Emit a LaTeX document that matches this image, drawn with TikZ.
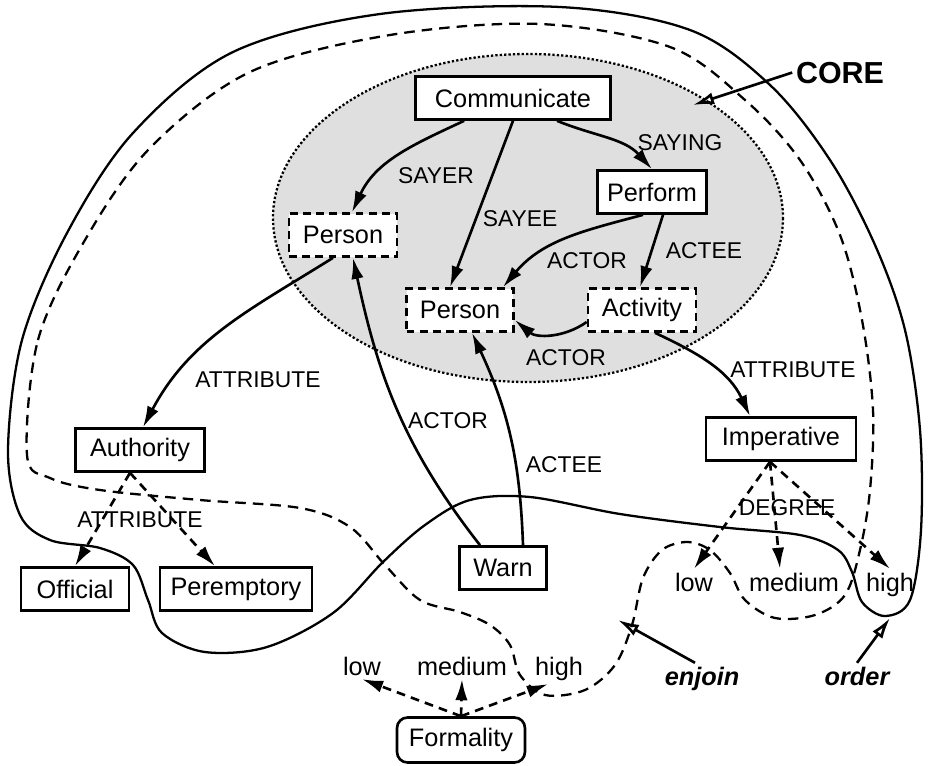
\documentclass[tikz,border=0pt]{standalone}
\usepackage{fontspec}
\setmainfont{Liberation Sans}
\usetikzlibrary{arrows.meta}

\tikzset{
  box/.style={draw, line width=1.5pt, fill=white, minimum height=0.86cm, inner sep=0pt,
    font=\fontsize{14.4}{16}\selectfont},
  dbox/.style={box, dash pattern=on 4.5pt off 3pt},
  lbl/.style={font=\fontsize{13}{15}\selectfont, inner sep=0pt, anchor=base},
  val/.style={font=\fontsize{14.4}{16}\selectfont, inner sep=2pt, anchor=base},
  rel/.style={line width=1.5pt, -{Latex[length=12pt,width=7pt]}},
  drel/.style={rel, dash pattern=on 5pt off 3.5pt},
  ptr/.style={line width=1.5pt, -{Latex[open,length=12pt,width=7pt]}},
}

\begin{document}
\begin{tikzpicture}[x=0.02cm, y=-0.02cm]
    \useasboundingbox (0,0) rectangle (929,765);

    % core
    \draw[fill=gray!25, line width=1.3pt, dash pattern=on 1.3pt off 1.2pt]
        (528,218) ellipse [x radius=255, y radius=164];

    % order (solid) and enjoin (dashed)
    \draw[line width=1.3pt] plot[smooth cycle, tension=0.55] coordinates {
        (8,450) (22,340) (67,233) (133,133) (233,52) (380,14) (560,7) (690,30)
        (770,85) (830,160) (875,245) (905,330) (920,430) (921,530) (910,600)
        (885,616) (862,602) (852,572) (838,550) (800,535) (720,527) (620,514)
        (530,497) (470,500) (425,525) (383,562) (333,613) (267,647) (205,652)
        (162,633) (148,600) (133,565) (100,548) (50,540) (20,515)};
    \draw[line width=1.3pt, dash pattern=on 6pt off 4pt] plot[smooth cycle, tension=0.55] coordinates {
        (27,455) (38,340) (85,240) (150,148) (250,72) (390,35) (540,24) (670,47)
        (745,100) (800,160) (840,235) (862,320) (873,410) (870,490) (860,550)
        (845,595) (815,615) (775,618) (745,600) (730,573) (710,550) (687,542)
        (662,550) (643,578) (632,625) (615,665) (585,690) (545,695) (520,675)
        (510,645) (490,625) (460,612) (420,600) (385,565) (350,527) (300,508)
        (200,500) (100,490) (50,478)};

    % concepts
    \node[box, minimum width=3.9cm] (comm) at (513,98) {Communicate};
    \node[box, minimum width=2.18cm] (perf) at (652,192) {Perform};
    \node[dbox, minimum width=2.16cm] (sayer) at (343,235) {Person};
    \node[dbox, minimum width=2.14cm] (sayee) at (460,310) {Person};
    \node[dbox, minimum width=2.16cm] (act) at (642,310) {Activity};
    \node[box, minimum width=2.58cm] (auth) at (140,450) {Authority};
    \node[box, minimum width=2.16cm] (off) at (75,589) {Official};
    \node[box, minimum width=3.04cm] (perem) at (236,589) {Peremptory};
    \node[box, minimum width=1.74cm] (warn) at (503,568) {Warn};
    \node[box, minimum width=3.0cm] (imp) at (781,439) {Imperative};
    \node[box, rounded corners=6pt, minimum width=2.56cm, minimum height=0.9cm] (form) at (461,740) {Formality};

    % values
    \node[val] (ilow) at (694,591) {low};
    \node[val] (imed) at (794,591) {medium};
    \node[val] (ihigh) at (890,591) {high};
    \node[val] (flow) at (362,675) {low};
    \node[val] (fmed) at (462,675) {medium};
    \node[val] (fhigh) at (559,675) {high};

    % roles
    \node[lbl] (sayerlbl) at (436,183) {SAYER};
    \node[lbl] (sayeelbl) at (520,226) {SAYEE};
    \node[lbl] (sayinglbl) at (680,150) {SAYING};
    \node[lbl] (actorlbl) at (587,268) {ACTOR};
    \node[lbl] (acteelbl) at (704,258) {ACTEE};
    \node[lbl] (actorlblb) at (566,365) {ACTOR};
    \node[lbl] (attrlbl) at (258,387) {ATTRIBUTE};
    \node[lbl] (warnactor) at (448,428) {ACTOR};
    \node[lbl] (warnactee) at (564,472) {ACTEE};
    \node[lbl] (attrlblb) at (793,377) {ATTRIBUTE};
    \node[lbl] (attrlblc) at (140,527) {ATTRIBUTE};
    \node[lbl] (degreelbl) at (787,515) {DEGREE};

    % names
    \node[anchor=base, inner sep=2pt, font=\fontsize{17.3}{19}\selectfont\bfseries] (core) at (840,83) {CORE};
    \node[val, font=\fontsize{14.4}{16}\selectfont\bfseries\itshape] (enjoin) at (702,685) {enjoin};
    \node[val, font=\fontsize{14.4}{16}\selectfont\bfseries\itshape] (order) at (857,685) {order};
    \coordinate (coretip) at (693,105);
    \coordinate (enjointip) at (618,620);
    \coordinate (ordertip) at (890,618);

    % relations
    \draw[rel] (comm.205) to[out=205,in=65] ([xshift=0.18cm]sayer.north);
    \draw[rel] (comm.south) -- ([xshift=-0.2cm]sayee.north);
    \draw[rel] ([xshift=0.88cm]comm.south) to[out=-22,in=132] (perf.north);
    \draw[rel] ([xshift=-0.18cm]perf.south) to[out=195,in=50] ([xshift=0.86cm]sayee.north);
    \draw[rel] ([xshift=0.22cm]perf.south) -- ([xshift=-0.04cm]act.north);
    \draw[rel] ([yshift=-0.24cm]act.west) to[out=215,in=-40] ([yshift=-0.2cm]sayee.east);
    \draw[rel] ([xshift=-0.2cm]sayer.south) to[out=212,in=62] ([xshift=0.06cm]auth.north);
    \draw[rel] ([xshift=-0.46cm]warn.north) to[out=128,in=-78] ([xshift=0.2cm]sayer.south);
    \draw[rel] ([xshift=0.4cm]warn.north) to[out=92,in=-65] ([xshift=0.24cm]sayee.south);
    \draw[rel] ([xshift=0.26cm]act.south) to[out=-25,in=115] ([xshift=-0.62cm]imp.north);

    % attributes
    \draw[drel] ([xshift=-0.2cm]auth.south) -- (off.north);
    \draw[drel] ([xshift=-0.2cm]auth.south) -- ([xshift=-0.42cm]perem.north);
    \draw[drel] ([xshift=-0.22cm]imp.south) -- (ilow.north);
    \draw[drel] ([xshift=-0.22cm]imp.south) -- ([xshift=-0.28cm]imed.north);
    \draw[drel] ([xshift=-0.22cm]imp.south) -- (ihigh.north);
    \draw[drel] (form.north) -- (flow.south);
    \draw[drel] (form.north) -- (fmed.south);
    \draw[drel] (form.north) -- ([xshift=-0.22cm]fhigh.south);

    % pointers
    \draw[ptr] (core.west) -- (coretip);
    \draw[ptr] ([xshift=-0.14cm]enjoin.north) -- (enjointip);
    \draw[ptr] (order.north) -- (ordertip);

\end{tikzpicture}
\end{document}
